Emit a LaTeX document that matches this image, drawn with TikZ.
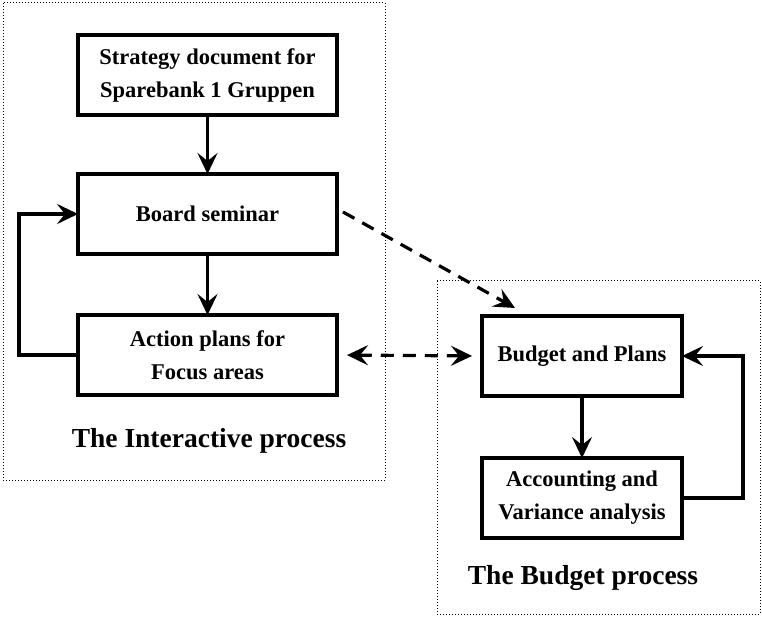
\documentclass[tikz,border=0pt]{standalone}
\usepackage{fontspec}
\setmainfont{Liberation Serif}
\usetikzlibrary{arrows.meta,calc}
\begin{document}
\begin{tikzpicture}[x=1pt,y=-1pt,
  procbox/.style={draw, line width=4pt, rectangle, inner sep=0pt, outer sep=0pt,
    minimum width=259pt, minimum height=80pt, align=center,
    font=\fontsize{22.5}{33}\selectfont\bfseries},
  tip/.tip={Stealth[length=21pt,width=20pt,inset=8pt]},
  flow/.style={line width=3.2pt, -tip},
  dashflow/.style={flow, dash pattern=on 13pt off 9pt},
  frame/.style={line width=1pt, dash pattern=on 1pt off 2pt},
  caption/.style={font=\fontsize{27.5}{32}\selectfont\bfseries}]
\useasboundingbox (0,0) rectangle (762,617);

% group frames
\draw[frame] (3,3) rectangle (385,480);
\draw[frame] (437,281) rectangle (760,614);

% interactive process
\node[procbox] (strat) at (207.5,75) {Strategy document for\\Sparebank 1 Gruppen};
\node[procbox] (board) at (207.5,214) {Board seminar};
\node[procbox] (action) at (207.5,355) {Action plans for\\Focus areas};
\node[caption] (lblI) at (209,441) {The Interactive process};

% budget process
\node[procbox, minimum width=200pt] (budget) at (582,356) {Budget and Plans};
\node[procbox, minimum width=200pt] (acc) at (582,498) {Accounting and\\Variance analysis};
\node[caption] (lblB) at (583,578) {The Budget process};

\coordinate (loopL) at (19,0);
\coordinate (loopR) at (743,0);

\draw[flow] (strat.south) -- (board.north);
\draw[flow] (board.south) -- (action.north);
\draw[flow] (action.west) -- (action.west -| loopL) |- (board.west);

\draw[flow] (budget.south) -- (acc.north);
\draw[flow] (acc.east) -- (acc.east -| loopR) |- (budget.east);

\draw[dashflow, tip-tip, shorten <=10pt, shorten >=10pt] (action.east) -- (budget.west);
\coordinate (dstart) at ($(board.east)+(6,-2)$);
\coordinate (dend) at ($(budget.north west)+(33,-8)$);
\draw[dashflow] (dstart) -- (dend);
\end{tikzpicture}
\end{document}
